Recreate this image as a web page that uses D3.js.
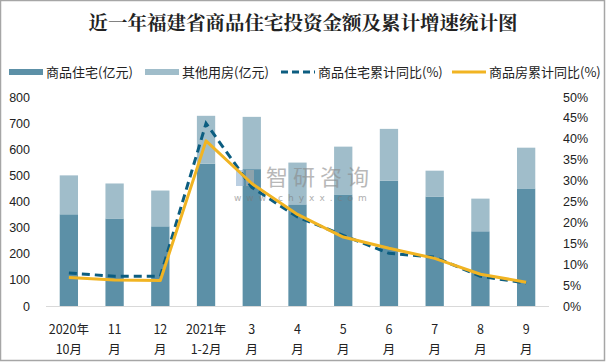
<!DOCTYPE html>
<html>
<head>
<meta charset="utf-8">
<script src="https://cdn.jsdelivr.net/npm/d3@7"></script>
<style>
  body { margin: 0; background: #fff; }
  text { font-family: "Liberation Sans", "Noto Sans CJK SC", sans-serif; }
</style>
</head>
<body>
<div id="chart"></div>
<script>
// data
var months = ['2020年|10月', '11|月', '12|月', '2021年|1-2月', '3|月', '4|月', '5|月', '6|月', '7|月', '8|月', '9|月'];
var residential = [351, 335, 305, 545, 524, 389, 427, 480, 419, 286, 450];
var otherUse = [149, 134, 137, 183, 200, 160, 183, 198, 99, 125, 156];
var residentialGrowth = [7.9, 7.1, 7.1, 43.7, 28.4, 21.3, 16.9, 12.6, 11.7, 7.1, 5.5];
var housingGrowth = [6.8, 6.2, 6.1, 39.5, 29.3, 21.9, 16.5, 13.8, 11.4, 7.6, 5.7];
var leftTicks = [0, 100, 200, 300, 400, 500, 600, 700, 800];
var rightTicks = [0, 5, 10, 15, 20, 25, 30, 35, 40, 45, 50];

var W = 606, H = 363;
var C_DARK = '#5c90a7', C_LIGHT = '#a0bdca', C_DASH = '#0c5d80', C_GOLD = '#f1b422';

var svg = d3.select('#chart').append('svg')
  .attr('width', W)
  .attr('height', H);

svg.append('rect')
  .attr('x', 0.5).attr('y', 0.5)
  .attr('width', W - 2).attr('height', H - 3)
  .attr('fill', '#fff')
  .attr('stroke', '#a6a6a6')
  .attr('stroke-width', 1.5);

var x = d3.scaleBand().domain(months).range([46, 549]).paddingInner(0.6).paddingOuter(0.3);
var y = d3.scaleLinear().domain([0, 800]).range([306, 97]);
var y2 = d3.scaleLinear().domain([0, 50]).range([306, 97]);

// title
svg.append('text')
  .attr('x', 303).attr('y', 30)
  .attr('text-anchor', 'middle')
  .style('font-family', '"Noto Serif CJK SC", "Noto Sans CJK SC", serif')
  .style('font-size', '19.5px')
  .style('font-weight', 'bold')
  .attr('fill', '#222')
  .text('近一年福建省商品住宅投资金额及累计增速统计图');

// legend
var legend = [
  {label: '商品住宅(亿元)', type: 'bar', color: C_DARK, x: 9},
  {label: '其他用房(亿元)', type: 'bar', color: C_LIGHT, x: 145},
  {label: '商品住宅累计同比(%)', type: 'dash', color: C_DASH, x: 281},
  {label: '商品房累计同比(%)', type: 'line', color: C_GOLD, x: 452}
];
var lg = svg.append('g').selectAll('g').data(legend).enter().append('g')
  .attr('transform', function(d) { return 'translate(' + d.x + ',72)'; });
lg.append('line')
  .attr('x1', 0).attr('x2', 34)
  .attr('stroke', function(d) { return d.color; })
  .attr('stroke-width', function(d) { return d.type == 'bar' ? 6 : 3; })
  .attr('stroke-dasharray', function(d) { return d.type == 'dash' ? '7,4' : null; });
lg.append('text')
  .attr('x', 37).attr('y', 4.5)
  .style('font-family', '"Noto Sans CJK SC", sans-serif')
  .style('font-size', '13px')
  .attr('fill', '#222')
  .text(function(d) { return d.label; });

// axes
var axisL = svg.append('g').attr('transform', 'translate(30,0)')
  .call(d3.axisLeft(y).tickValues(leftTicks).tickSize(0).tickPadding(0));
var axisR = svg.append('g').attr('transform', 'translate(563,0)')
  .call(d3.axisRight(y2).tickValues(rightTicks).tickSize(0).tickPadding(0)
    .tickFormat(function(d) { return d + '%'; }));
[axisL, axisR].forEach(function(a) {
  a.select('.domain').remove();
  a.selectAll('text').style('font-size', '12.5px').attr('fill', '#222')
    .style('font-family', '"Liberation Sans", sans-serif');
});

// bars
var bars = svg.append('g');
bars.selectAll('rect.res').data(residential).enter().append('rect')
  .attr('x', function(d, i) { return x(months[i]); })
  .attr('y', function(d) { return y(d); })
  .attr('width', x.bandwidth())
  .attr('height', function(d) { return y(0) - y(d); })
  .attr('fill', C_DARK);
bars.selectAll('rect.oth').data(otherUse).enter().append('rect')
  .attr('x', function(d, i) { return x(months[i]); })
  .attr('y', function(d, i) { return y(d + residential[i]); })
  .attr('width', x.bandwidth())
  .attr('height', function(d, i) { return y(residential[i]) - y(d + residential[i]); })
  .attr('fill', C_LIGHT);

// baseline
svg.append('line')
  .attr('x1', 46).attr('x2', 549)
  .attr('y1', y(0) + 0.5).attr('y2', y(0) + 0.5)
  .attr('stroke', '#d9d9d9');

// watermark, drawn over the bars
var wm = svg.append('g').attr('opacity', 0.6);
wm.append('rect').attr('x', 236).attr('y', 170).attr('width', 8).attr('height', 16).attr('fill', '#8fb0d0');
wm.append('rect').attr('x', 246).attr('y', 170).attr('width', 8).attr('height', 16).attr('fill', '#b0b0b0');
wm.append('text')
  .attr('x', 266).attr('y', 185)
  .style('font-family', '"Noto Sans CJK SC", sans-serif')
  .style('font-size', '22px')
  .attr('fill', '#8a8a8a')
  .style('letter-spacing', '5px')
  .text('智研咨询');
wm.append('text')
  .attr('x', 234).attr('y', 201)
  .style('font-family', '"DejaVu Sans", sans-serif')
  .style('font-size', '9px')
  .attr('fill', '#7a7a7a')
  .style('letter-spacing', '5px')
  .text('www.chyxx.com');

// lines
var line = d3.line()
  .x(function(d, i) { return x(months[i]) + x.bandwidth() / 2; })
  .y(function(d) { return y2(d); });
svg.append('path').datum(residentialGrowth)
  .attr('d', line)
  .attr('fill', 'none')
  .attr('stroke', C_DASH)
  .attr('stroke-width', 3)
  .attr('stroke-dasharray', '8,5');
svg.append('path').datum(housingGrowth)
  .attr('d', line)
  .attr('fill', 'none')
  .attr('stroke', C_GOLD)
  .attr('stroke-width', 3)
  .attr('stroke-linejoin', 'round');

// x labels
var xl = svg.append('g').selectAll('text').data(months).enter().append('text')
  .attr('text-anchor', 'middle')
  .attr('transform', function(d) { return 'translate(' + (x(d) + x.bandwidth() / 2) + ',0)'; })
  .style('font-family', '"Noto Sans CJK SC", sans-serif')
  .style('font-size', '12.5px')
  .attr('fill', '#222');
xl.append('tspan').attr('x', 0).attr('y', 334).text(function(d) { return d.split('|')[0]; });
xl.append('tspan').attr('x', 0).attr('y', 354).text(function(d) { return d.split('|')[1]; });
</script>
</body>
</html>
